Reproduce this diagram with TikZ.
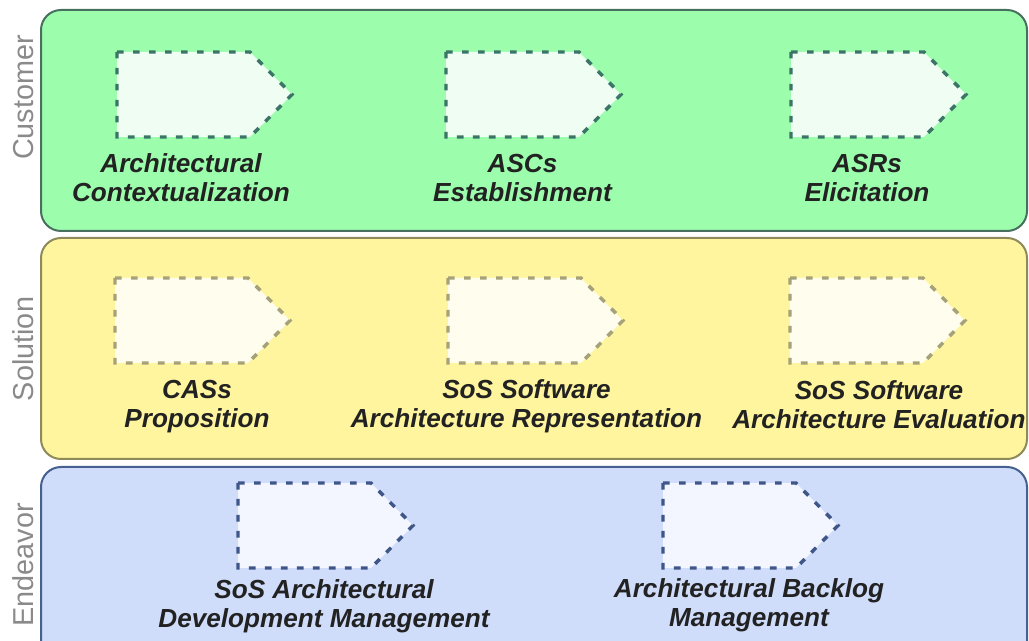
\documentclass[tikz,border=0pt]{standalone}
\usepackage{fontspec}
\setmainfont{Liberation Sans}
\definecolor{gfill}{HTML}{9CFDAC}
\definecolor{gline}{HTML}{47705F}
\definecolor{gact}{HTML}{F0FDF2}
\definecolor{gdash}{HTML}{3A7568}
\definecolor{yfill}{HTML}{FEF59E}
\definecolor{yline}{HTML}{8F8A5A}
\definecolor{yact}{HTML}{FEFDEE}
\definecolor{ydash}{HTML}{A5A178}
\definecolor{bfill}{HTML}{CFDCFA}
\definecolor{bline}{HTML}{46608F}
\definecolor{bact}{HTML}{F3F6FE}
\definecolor{bdash}{HTML}{3E5688}
\definecolor{txt}{HTML}{222222}
\definecolor{sidegray}{HTML}{8A8A8A}
\tikzset{
  panel/.style={rounded corners=15pt, line width=1.5pt},
  act/.style={line width=2.6pt, dash pattern=on 5pt off 7pt},
  lbl/.style={font=\fontsize{19.6}{21.75}\selectfont\bfseries\itshape, align=center, anchor=north, inner sep=0pt, text=txt},
  side/.style={font=\fontsize{21.6}{25}\selectfont, text=sidegray, rotate=90, anchor=base, inner sep=0pt}
}
\newcommand\activity[4]{%
  \draw[act, fill=#3, draw=#4] (#1,#2) -- ++(133,0) -- ++(42,42.5) -- ++(-42,42.5) -- ++(-133,0) -- cycle;}
\begin{document}
\begin{tikzpicture}[x=0.75pt,y=-0.75pt]
\useasboundingbox (0,0) rectangle (1029,641);
\clip (0,0) rectangle (1029,641);
% panels
\draw[panel, fill=gfill, draw=gline] (41,10) rectangle (1027,231);
\draw[panel, fill=yfill, draw=yline] (41,238) rectangle (1027,459);
\draw[panel, fill=bfill, draw=bline] (41,467) rectangle (1027,690);
% side labels
\node[side] (customer) at (33,97.5) {Customer};
\node[side] (solution) at (33,349) {Solution};
\node[side] (endeavor) at (33,565) {Endeavor};
% customer activities
\activity{117}{52}{gact}{gdash}
\activity{446}{52}{gact}{gdash}
\activity{791}{52}{gact}{gdash}
\node[lbl] (ac) at (181,151.7) {\strut Architectural\\\strut Contextualization};
\node[lbl] (ascs) at (522.5,151.7) {\strut ASCs\\\strut Establishment};
\node[lbl] (asrs) at (867,151.7) {\strut ASRs\\\strut Elicitation};
% solution activities
\activity{115}{278}{yact}{ydash}
\activity{448}{278}{yact}{ydash}
\activity{790}{278}{yact}{ydash}
\node[lbl] (cass) at (197,377.7) {\strut CASs\\\strut Proposition};
\node[lbl] (ssar) at (526.5,377.7) {\strut SoS Software\\\strut Architecture Representation};
\node[lbl] (ssae) at (879,378.7) {\strut SoS Software\\\strut Architecture Evaluation};
% endeavor activities
\activity{238}{483}{bact}{bdash}
\activity{663}{483}{bact}{bdash}
\node[lbl] (sadm) at (324,577.7) {\strut SoS Architectural\\\strut Development Management};
\node[lbl] (abm) at (749,576.7) {\strut Architectural Backlog\\\strut Management};
\end{tikzpicture}
\end{document}
